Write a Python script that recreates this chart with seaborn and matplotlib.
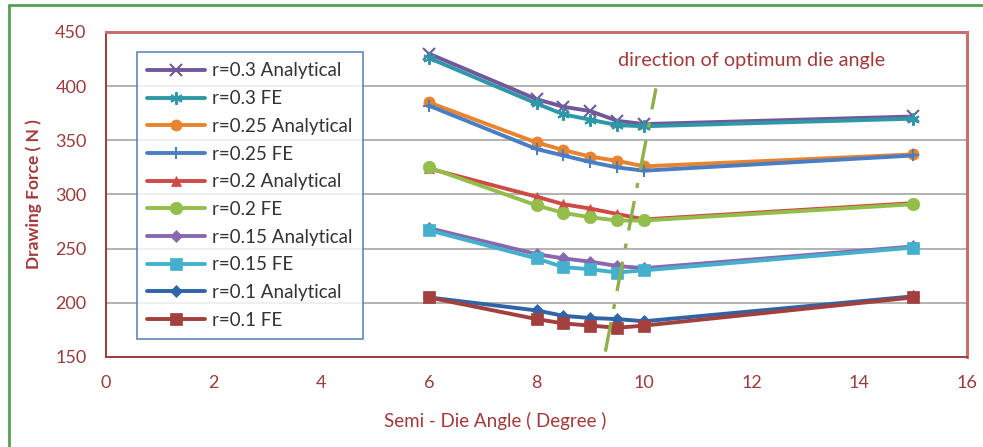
import matplotlib
matplotlib.use("Agg")
import matplotlib.pyplot as plt
import seaborn as sns
import pandas as pd
from matplotlib.lines import Line2D

sns.set_theme(style="white")
plt.rcParams['font.family'] = ['Lato', 'DejaVu Sans']

angles = [6, 8, 8.5, 9, 9.5, 10, 15]
series_names = ["r=0.3 Analytical", "r=0.3 FE", "r=0.25 Analytical", "r=0.25 FE",
                "r=0.2 Analytical", "r=0.2 FE", "r=0.15 Analytical", "r=0.15 FE",
                "r=0.1 Analytical", "r=0.1 FE"]
r03_analytical = [430, 388, 381, 377, 368, 365, 372]
r03_fe = [426, 384, 374, 369, 364, 363, 370]
r025_analytical = [385, 348, 341, 335, 331, 326, 337]
r025_fe = [382, 342, 336, 330, 325, 322, 336]
r02_analytical = [324, 298, 291, 287, 282, 277, 292]
r02_fe = [325, 290, 283, 279, 276, 276, 291]
r015_analytical = [269, 245, 241, 238, 234, 232, 252]
r015_fe = [267, 241, 233, 231, 228, 230, 251]
r01_analytical = [205, 193, 188, 186, 185, 183, 206]
r01_fe = [205, 185, 181, 179, 177, 179, 205]
all_values = [r03_analytical, r03_fe, r025_analytical, r025_fe, r02_analytical,
              r02_fe, r015_analytical, r015_fe, r01_analytical, r01_fe]

opt_x = [9.28, 10.22]
opt_y = [155, 398]
annotation = "direction of optimum die angle"

colors = ["#71589A", "#2F98A8", "#E8832E", "#4A7EC4", "#CF4A45",
          "#94BE4C", "#8A68B0", "#45B0CE", "#2F64A6", "#A3403D"]
markers = ["x", (6, 2, 0), "o", "+", "^", "o", "D", "s", "D", "s"]
msizes = [9, 9, 8, 9, 7, 9, 6, 9, 6, 9]

rows = []
for name, vals in zip(series_names, all_values):
    for a, v in zip(angles, vals):
        rows.append({"angle": a, "force": v, "series": name})
df = pd.DataFrame(rows)

fig = plt.figure(figsize=(9.83, 4.47), dpi=100)
ax = fig.add_axes([106/983, 1-357/447, (967-106)/983, (357-32)/447])

for name, c, m, ms in zip(series_names, colors, markers, msizes):
    sub = df[df["series"] == name]
    sns.lineplot(data=sub, x="angle", y="force", ax=ax, color=c, marker=m,
                 markersize=ms, linewidth=2.8, label=name,
                 markeredgecolor=c, markeredgewidth=1.5 if m in ("x", "+", (6, 2, 0)) else 0.5)

ax.plot(opt_x, opt_y, color="#8DB04B", lw=2.4, dashes=[9, 4, 1.5, 4], zorder=5)
ax.text(9.52, 424, annotation, color="#A33A3A", fontsize=14.3, ha="left", va="center")

ax.set_xlim(0, 16)
ax.set_ylim(150, 450)
ax.set_xticks(range(0, 17, 2))
ax.set_yticks(range(150, 451, 50))
ax.yaxis.grid(True, color="#A6A6A6", lw=1.2)
ax.set_axisbelow(True)
tc = "#9B3B3B"
ax.tick_params(axis="both", colors=tc, labelsize=13, direction="out", length=5, width=1.2,
               labelcolor=tc)
ax.tick_params(axis="x", pad=8)
ax.tick_params(axis="y", pad=9)
for s in ["left", "bottom"]:
    ax.spines[s].set_color("#9B3B3B")
    ax.spines[s].set_linewidth(1.4)
for s in ["top", "right"]:
    ax.spines[s].set_color("#C86E6C")
    ax.spines[s].set_linewidth(2.2)

ax.set_xlabel("Semi - Die Angle ( Degree )", color="#A33A3A", fontsize=13.5)
ax.xaxis.set_label_coords((495-106)/861, (357-421)/325)
ax.xaxis.label.set_va("center")
ax.set_ylabel("Drawing Force ( N )", color="#A33A3A", fontsize=12.5, fontweight="bold")
ax.yaxis.set_label_coords((34-106)/861, 0.5)
ax.yaxis.label.set_va("center")

leg = ax.legend(loc="upper left", bbox_to_anchor=(0.036, 0.938), fontsize=13.5,
                frameon=True, fancybox=False, handlelength=3.1, labelspacing=0.57,
                borderpad=0.55, handletextpad=0.37, borderaxespad=0)
leg.get_frame().set_edgecolor("#4A74B0")
leg.get_frame().set_linewidth(1.3)
for t in leg.get_texts():
    t.set_color("#333333")

fig.add_artist(Line2D([9/983, 9/983], [0, 1-5/447], transform=fig.transFigure,
                      color="#55A055", lw=2))
fig.add_artist(Line2D([9/983, 1], [1-5/447, 1-5/447], transform=fig.transFigure,
                      color="#55A055", lw=2))

fig.savefig("out.png", dpi=100)
